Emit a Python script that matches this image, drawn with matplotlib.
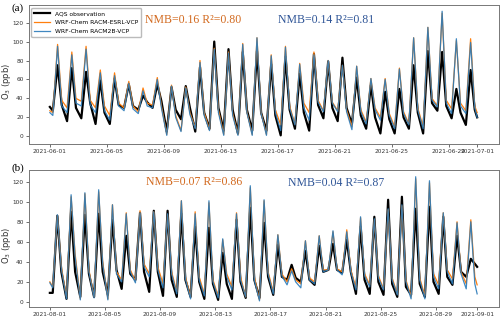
import numpy as np
import matplotlib
matplotlib.use('Agg')
import matplotlib.pyplot as plt
import matplotlib.dates as mdates

# daily readings: early-morning low (~05h), afternoon peak (~13h), evening (~20h)
HOURS = [5, 13, 20]

# June 2021, panel (a)
JUN_OBS_LOW = [27, 16, 19, 13, 13, 30, 28, 30, 5, 18, 5, 8, 6, 3, 6, 6, 1, 8, 6, 19, 16, 13, 8, 3, 3, 8, 3, 27, 19, 12]
JUN_OBS_PEAK = [75, 72, 68, 59, 61, 55, 43, 55, 52, 53, 73, 100, 92, 89, 90, 76, 84, 66, 87, 79, 83, 62, 54, 47, 50, 75, 90, 89, 50, 70]
JUN_OBS_EVE = [33, 30, 35, 25, 33, 32, 36, 37, 28, 30, 25, 30, 28, 28, 25, 22, 28, 25, 33, 30, 30, 22, 20, 18, 20, 25, 35, 32, 25, 28]
JUN_ESRL_LOW = [25, 30, 37, 30, 22, 30, 26, 33, 2, 6, 9, 7, 2, 2, 2, 2, 12, 13, 25, 27, 27, 10, 15, 20, 10, 13, 10, 32, 29, 27]
JUN_ESRL_PEAK = [97, 89, 95, 70, 67, 58, 51, 62, 54, 52, 80, 93, 89, 98, 104, 86, 95, 77, 89, 80, 75, 74, 61, 61, 72, 104, 115, 130, 101, 103]
JUN_ESRL_EVE = [38, 40, 38, 32, 35, 32, 35, 32, 22, 25, 25, 28, 24, 26, 25, 28, 32, 35, 38, 36, 28, 28, 30, 24, 26, 30, 40, 38, 35, 32]
JUN_2B_LOW = [22, 25, 32, 25, 17, 27, 24, 30, 1, 5, 8, 6, 1, 1, 1, 1, 6, 12, 17, 26, 26, 7, 13, 17, 8, 12, 8, 31, 24, 24]
JUN_2B_PEAK = [95, 86, 92, 67, 64, 56, 48, 60, 53, 51, 78, 92, 88, 97, 104, 85, 94, 76, 86, 80, 75, 74, 61, 60, 71, 104, 115, 132, 103, 99]
JUN_2B_EVE = [32, 35, 33, 27, 32, 29, 32, 30, 20, 23, 22, 25, 22, 25, 24, 25, 30, 30, 36, 35, 26, 26, 28, 22, 24, 28, 38, 35, 32, 30]
JUN_START = {'obs': 31, 'esrl': 27, 'r2b': 25}
JUN_END = {'obs': 20, 'esrl': 25, 'r2b': 20}

# August 2021, panel (b)
AUG_OBS_LOW = [9, 3, 5, 5, 7, 13, 22, 10, 6, 5, 5, 3, 2, 3, 4, 4, 7, 22, 20, 17, 32, 29, 8, 8, 7, 5, 7, 5, 8, 17, 25]
AUG_OBS_PEAK = [86, 90, 87, 88, 82, 66, 89, 91, 91, 88, 75, 74, 49, 82, 94, 79, 57, 37, 51, 56, 58, 62, 75, 85, 102, 105, 93, 95, 85, 66, 43]
AUG_OBS_EVE = [30, 30, 28, 30, 32, 28, 30, 30, 22, 22, 20, 18, 18, 20, 22, 25, 25, 24, 22, 30, 32, 30, 22, 20, 18, 15, 18, 20, 25, 30, 38]
AUG_ESRL_LOW = [15, 5, 3, 5, 3, 22, 21, 28, 18, 10, 5, 8, 6, 15, 5, 2, 10, 20, 18, 20, 32, 30, 14, 17, 13, 8, 5, 6, 17, 23, 18]
AUG_ESRL_PEAK = [86, 105, 108, 110, 97, 89, 91, 90, 87, 101, 90, 99, 62, 89, 114, 101, 67, 33, 61, 66, 70, 72, 84, 82, 92, 96, 123, 119, 89, 80, 82]
AUG_ESRL_EVE = [35, 48, 32, 40, 30, 32, 38, 35, 30, 25, 25, 22, 28, 25, 25, 30, 28, 22, 24, 32, 33, 32, 28, 26, 24, 22, 24, 28, 32, 30, 25]
AUG_2B_LOW = [14, 3, 2, 4, 2, 20, 19, 25, 14, 8, 3, 6, 4, 12, 5, 1, 8, 17, 14, 18, 32, 27, 12, 15, 12, 7, 3, 3, 13, 18, 13]
AUG_2B_PEAK = [87, 107, 109, 112, 97, 88, 89, 90, 88, 101, 88, 101, 63, 88, 116, 102, 67, 31, 61, 66, 71, 70, 85, 83, 93, 97, 125, 121, 89, 79, 80]
AUG_2B_EVE = [33, 45, 30, 38, 28, 30, 35, 32, 28, 23, 22, 20, 25, 22, 22, 28, 26, 20, 22, 30, 32, 30, 26, 24, 22, 20, 22, 25, 30, 28, 18]
AUG_START = {'obs': 9, 'esrl': 20, 'r2b': 19}
AUG_END = {'obs': 35, 'esrl': 17, 'r2b': 8}

LABELS = ['AQS observation', 'WRF-Chem RACM-ESRL-VCP', 'WRF-Chem RACM2B-VCP']
STATS_A = ['NMB=0.16 R²=0.80', 'NMB=0.14 R²=0.81']
STATS_B = ['NMB=0.07 R²=0.86', 'NMB=0.04 R²=0.87']


def build(start_date, low, peak, eve, first, last):
    base = np.datetime64(start_date + 'T00:00')
    n = len(low)
    hrs = (np.arange(n)[:, None] * 24 + np.array(HOURS)[None, :]).ravel()
    t = base + hrs.astype('timedelta64[h]')
    t = np.concatenate([[base], t, [base + np.timedelta64(n * 24, 'h')]])
    v = np.column_stack([low, peak, eve]).ravel()
    v = np.concatenate([[first], v, [last]])
    return t.astype('datetime64[m]').astype(object), v


fig = plt.figure(figsize=(5.0, 3.19), dpi=100)
ax_a = fig.add_axes([0.057, 0.549, 0.940, 0.435])
ax_b = fig.add_axes([0.057, 0.038, 0.940, 0.429])

panels = [
    (ax_a, '2021-06-01', '2021-07-01',
     [(JUN_OBS_LOW, JUN_OBS_PEAK, JUN_OBS_EVE, 'obs'),
      (JUN_ESRL_LOW, JUN_ESRL_PEAK, JUN_ESRL_EVE, 'esrl'),
      (JUN_2B_LOW, JUN_2B_PEAK, JUN_2B_EVE, 'r2b')],
     JUN_START, JUN_END, (-8, 138.5), 1.5),
    (ax_b, '2021-08-01', '2021-09-01',
     [(AUG_OBS_LOW, AUG_OBS_PEAK, AUG_OBS_EVE, 'obs'),
      (AUG_ESRL_LOW, AUG_ESRL_PEAK, AUG_ESRL_EVE, 'esrl'),
      (AUG_2B_LOW, AUG_2B_PEAK, AUG_2B_EVE, 'r2b')],
     AUG_START, AUG_END, (-5, 131.7), 1.55),
]

styles = {
    'obs': dict(color='black', lw=1.6, zorder=2),
    'esrl': dict(color='#ff7f0e', lw=0.9, zorder=3),
    'r2b': dict(color='#2b7bb9', lw=0.9, alpha=0.9, zorder=4),
}

for ax, d0, d1, series, st, en, ylim, pad in panels:
    for (lo, pk, ev, key), lab in zip(series, LABELS):
        t, v = build(d0, lo, pk, ev, st[key], en[key])
        ax.plot(t, v, label=lab, **styles[key])
    ax.set_ylim(*ylim)
    t0 = np.datetime64(d0 + 'T00:00')
    t1 = np.datetime64(d1 + 'T00:00')
    padt = np.timedelta64(int(pad * 24 * 60), 'm')
    ax.set_xlim((t0 - padt).astype(object), (t1 + padt).astype(object))
    ax.set_yticks(range(0, 121, 20))
    ax.xaxis.set_major_locator(mdates.DayLocator(bymonthday=range(1, 32, 4)))
    ax.xaxis.set_major_formatter(mdates.DateFormatter('%Y-%m-%d'))
    ax.tick_params(labelsize=4.2, length=2, width=0.5, pad=1.5, colors='#333333')
    for s in ax.spines.values():
        s.set_color('#777777')
        s.set_linewidth(0.7)
    ax.set_ylabel('O$_3$ (ppb)', fontsize=6, color='#333333')
    ax.yaxis.set_label_coords(-0.034, 0.45)

serif = dict(family='Liberation Serif', fontsize=8.5, va='center')
ax_a.text(0.247, 0.892, STATS_A[0], transform=ax_a.transAxes, color='#d2691e', **serif)
ax_a.text(0.531, 0.892, STATS_A[1], transform=ax_a.transAxes, color='#2f5597', **serif)
ax_b.text(0.249, 0.915, STATS_B[0], transform=ax_b.transAxes, color='#d2691e', **serif)
ax_b.text(0.552, 0.905, STATS_B[1], transform=ax_b.transAxes, color='#2f5597', **serif)

fig.text(0.022, 0.973, '(a)', family='Liberation Serif', fontsize=8, va='center')
fig.text(0.022, 0.473, '(b)', family='Liberation Serif', fontsize=8, va='center')

ax_a.legend(loc='upper left', fontsize=4.3, handlelength=2.6, borderpad=0.5,
            labelspacing=0.6, framealpha=1, edgecolor='#bbbbbb')

fig.savefig('out.png', dpi=100)
